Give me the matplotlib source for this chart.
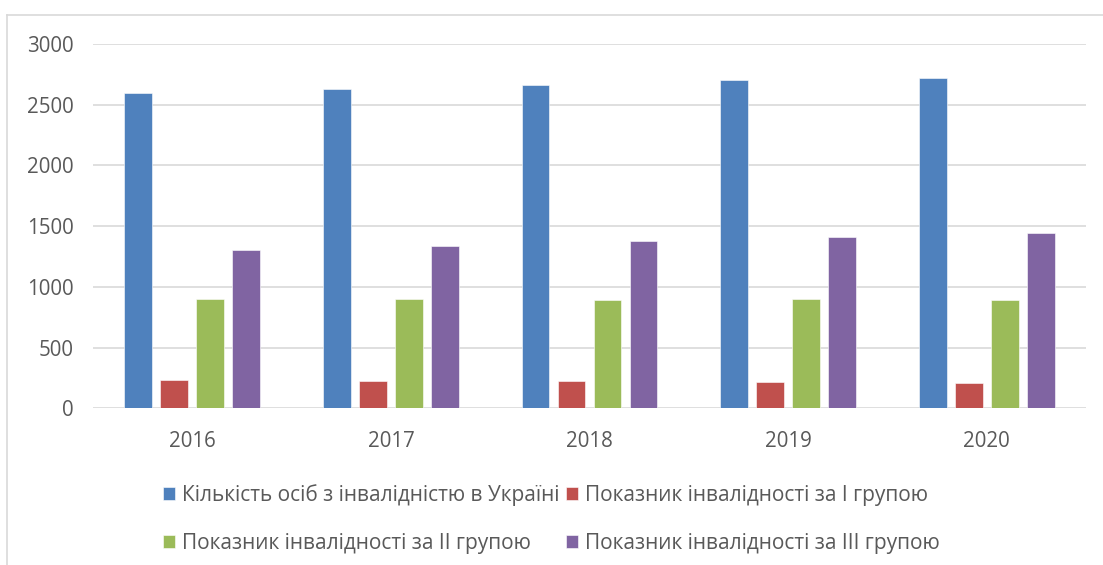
import matplotlib
matplotlib.use("Agg")
import matplotlib.pyplot as plt
from matplotlib.lines import Line2D
import numpy as np

years = ["2016", "2017", "2018", "2019", "2020"]
series_names = [
    "Кількість осіб з інвалідністю в Україні",
    "Показник інвалідності за І групою",
    "Показник інвалідності за ІІ групою",
    "Показник інвалідності за ІІІ групою",
]
total = [2600, 2632, 2660, 2701, 2722]
group1 = [233, 227, 222, 217, 211]
group2 = [898, 898, 892, 898, 892]
group3 = [1301, 1337, 1375, 1411, 1444]
colors = ["#4F81BD", "#C0504D", "#9BBB59", "#8064A2"]

plt.rcParams['font.family'] = ['Open Sans', 'DejaVu Sans']

fig = plt.figure(figsize=(11.03, 5.65), dpi=100)
ax = fig.add_axes([0.0843, 0.2773, 0.9003, 0.6448])

x = np.arange(len(years))
step = 0.181
width = 0.14
data = [total, group1, group2, group3]
for i, (vals, c, name) in enumerate(zip(data, colors, series_names)):
    ax.bar(x + (i - 1.5) * step, vals, width=width, color=c, label=name,
           edgecolor="white", linewidth=0.4, zorder=3)

ax.set_xlim(-0.5, 4.5)
ax.set_ylim(0, 3000)
ax.set_yticks(np.arange(0, 3001, 500))
ax.set_xticks(x)
ax.set_xticklabels(years)
ax.grid(axis="y", color="#d9d9d9", linewidth=1.2, zorder=0)
for s in ax.spines.values():
    s.set_visible(False)
ax.tick_params(axis="both", length=0, labelsize=14.8, labelcolor="#595959")
ax.tick_params(axis="y", pad=14)
ax.tick_params(axis="x", pad=16)

handles, labels = ax.get_legend_handles_labels()
order = [0, 2, 1, 3]  # row-wise filling for a 2-column legend
leg = fig.legend([handles[k] for k in order], [labels[k] for k in order],
                 ncol=2, loc="upper left",
                 bbox_to_anchor=(0.148, 0.143), frameon=False,
                 fontsize=15, labelcolor="#595959",
                 handlelength=0.58, handleheight=0.58, handletextpad=0.3,
                 columnspacing=0.35, labelspacing=1.3, borderpad=0, borderaxespad=0)

# outer border (top and left)
fig.add_artist(Line2D([7/1103, 1.0], [1 - 15/565, 1 - 15/565], transform=fig.transFigure,
                      color="#d9d9d9", linewidth=1.2))
fig.add_artist(Line2D([7/1103, 7/1103], [0, 1 - 15/565], transform=fig.transFigure,
                      color="#d9d9d9", linewidth=1.2))

fig.savefig("out.png", dpi=100, facecolor="white")
